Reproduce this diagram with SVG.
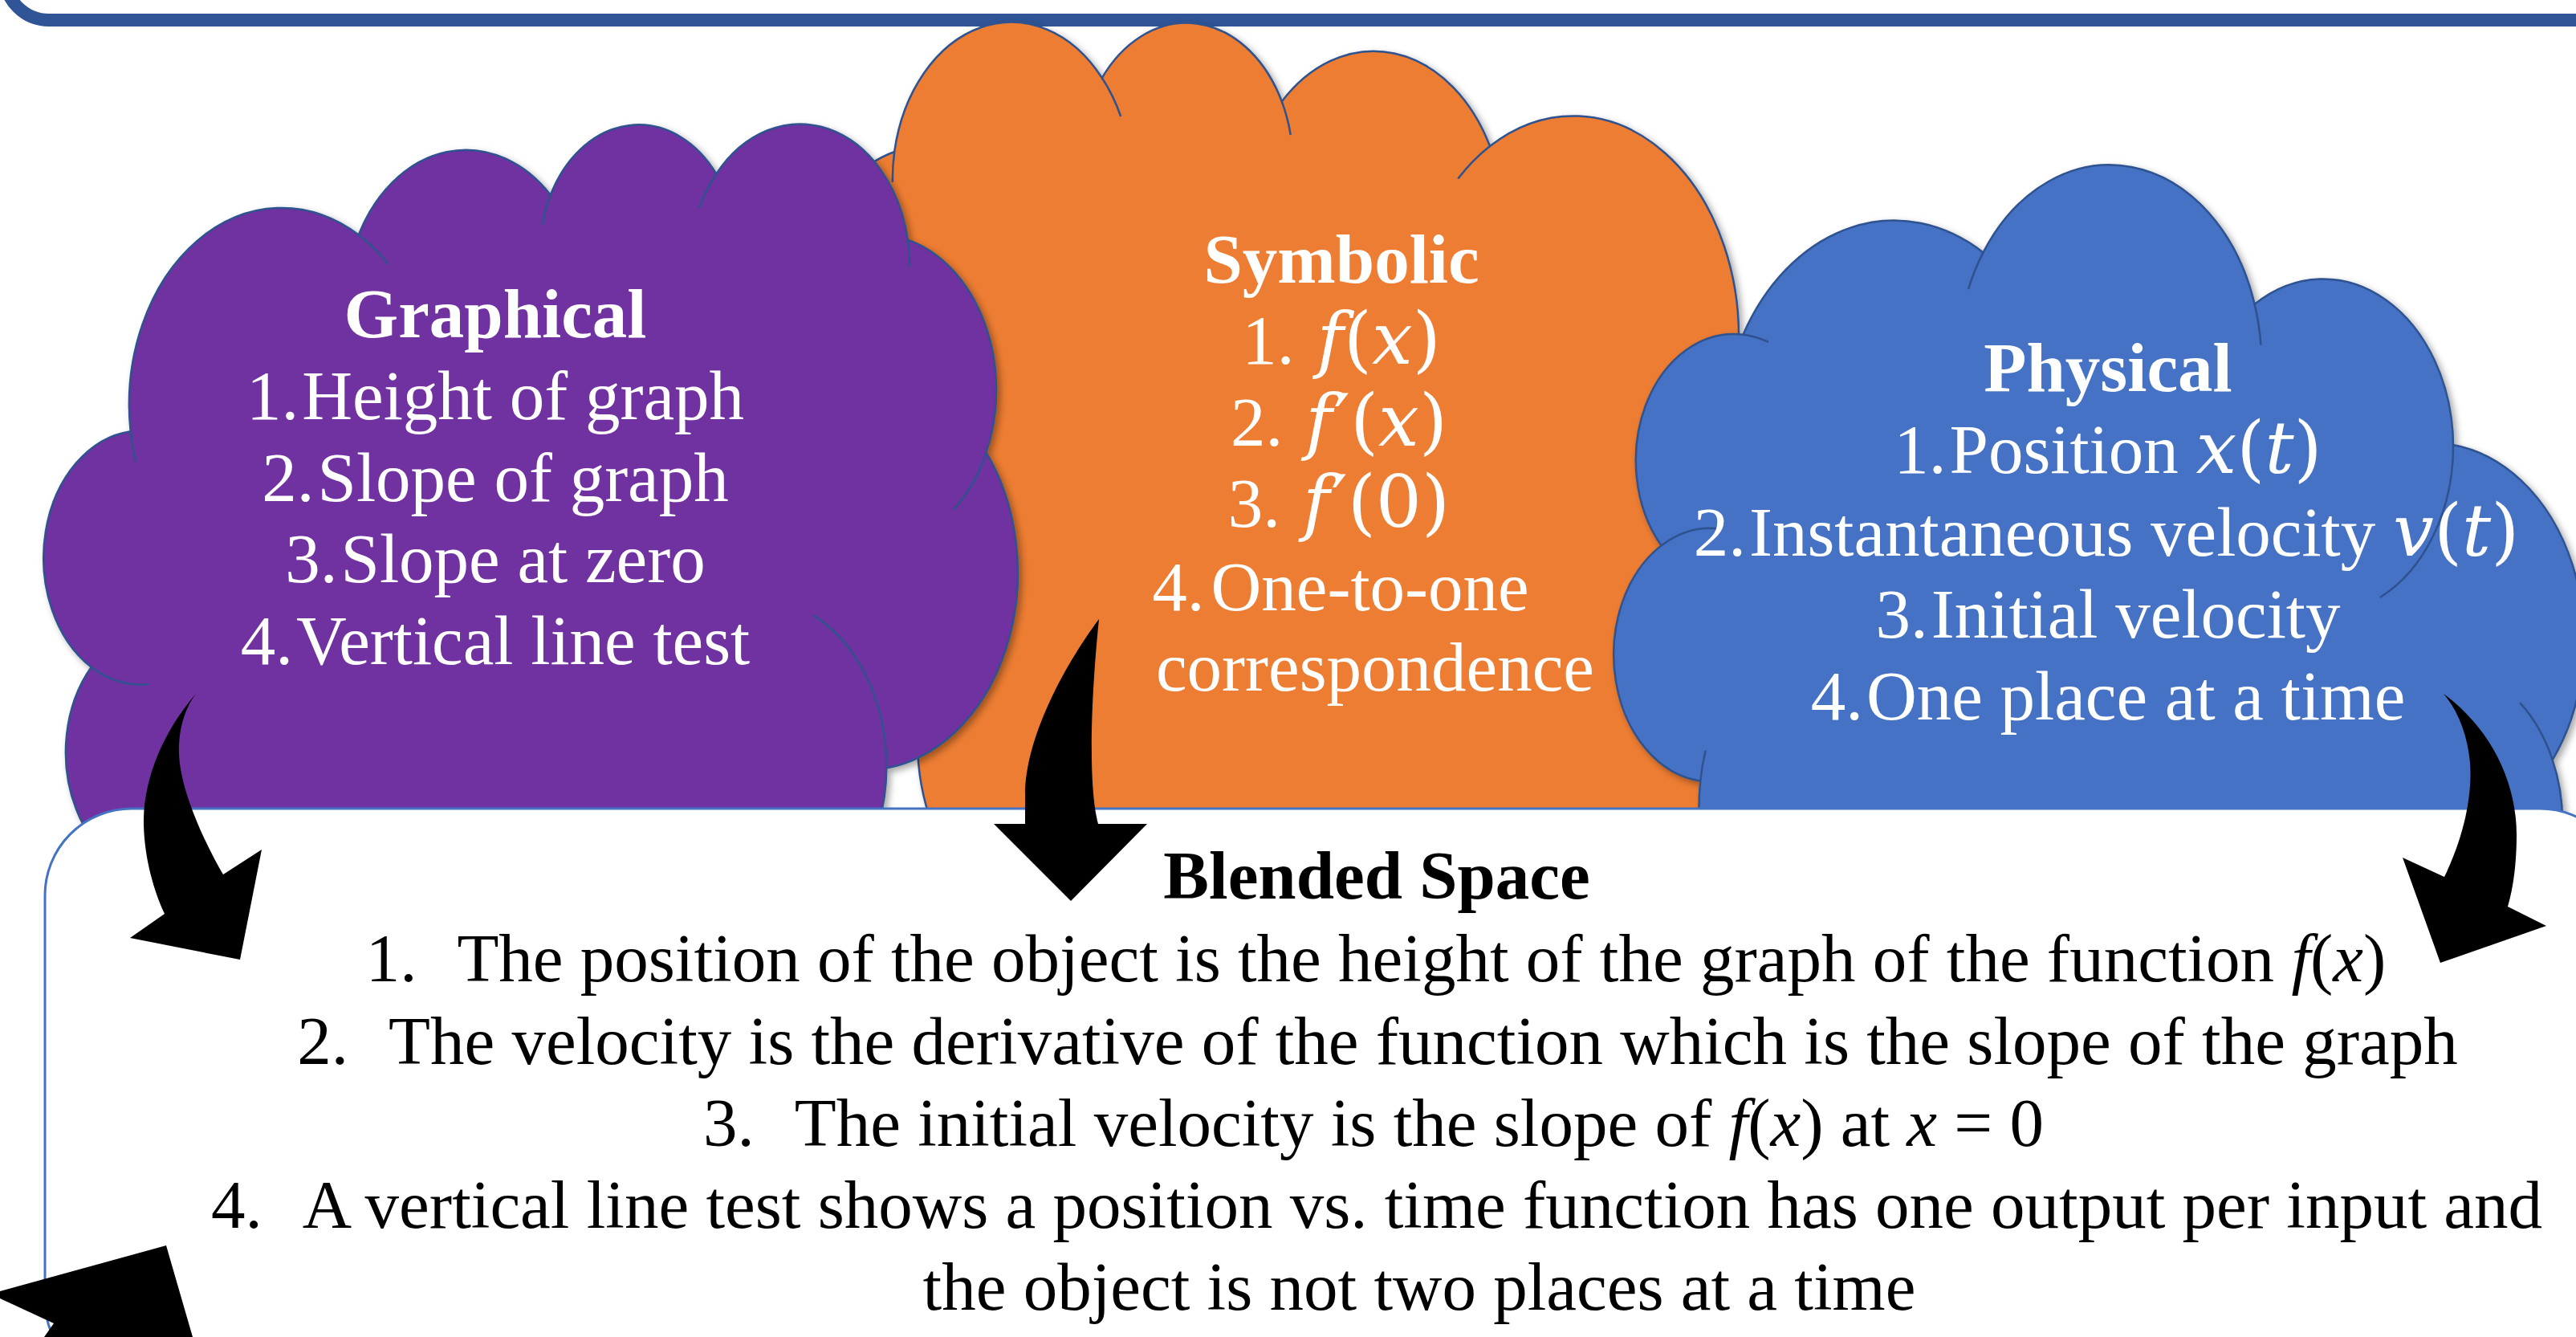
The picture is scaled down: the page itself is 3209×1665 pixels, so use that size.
<svg xmlns="http://www.w3.org/2000/svg" xmlns:xlink="http://www.w3.org/1999/xlink" width="3209" height="1665" viewBox="0 0 3209 1665">
  <defs>
    <style>
      .label { font-family: "Liberation Serif", "Times New Roman", serif; font-size: 87px; fill: #ffffff; text-anchor: middle; }
      .title { font-weight: bold; }
      .math { font-family: "DejaVu Serif", serif; font-size: 90px; }
      .mi { font-style: italic; }
      .blend { font-family: "Liberation Serif", "Times New Roman", serif; font-size: 85px; fill: #000000; text-anchor: middle; }
      .arrow { fill: #000000; }
    </style>
    <!-- preset cloud outline in a 43200 x 43200 unit square -->
    <path id="cloud-shape" vector-effect="non-scaling-stroke" stroke="#2F528F" stroke-width="2.5"
      d="M3900,14370 A6753,9190 0 0 1 14000,5192 A5333,7267 0 0 1 22500,3330 A4365,5945 0 0 1 29845,2345 A4857,6595 0 0 1 38324,5426 A5333,7273 0 0 1 41798,15354 A6775,9220 0 0 1 37382,30093 A5785,7867 0 0 1 28550,36670 A6752,9215 0 0 1 16478,39090 A7720,10543 0 0 1 5800,35250 A4360,5918 0 0 1 2160,25380 A4345,5945 0 0 1 3900,14370 Z"/>
    <!-- inner crease arcs of the cloud -->
    <path id="cloud-creases" vector-effect="non-scaling-stroke" fill="none" stroke="#2F528F" stroke-width="2.5"
      d="M4693,26177 A4345,5945 0 0 1 2160,25380 M6928,34899 A4360,5918 0 0 1 5800,35250 M16478,39090 A6752,9215 0 0 1 15817,37371 M28827,34751 A6752,9215 0 0 1 28550,36670 M34129,22954 A5785,7867 0 0 1 37382,30093 M41798,15354 A5333,7273 0 0 1 40350,18029 M38324,5426 A4857,6595 0 0 1 38400,6690 M29078,3952 A4857,6595 0 0 1 29845,2345 M22141,4720 A4365,5945 0 0 1 22500,3330 M14000,5192 A6753,9190 0 0 1 15304,6550 M4127,15789 A6753,9190 0 0 1 3900,14370"/>
    <filter id="shadow" x="-5%" y="-5%" width="115%" height="115%">
      <feDropShadow dx="4" dy="4" stdDeviation="4" flood-color="#000000" flood-opacity="0.35"/>
    </filter>
  </defs>

  <rect width="3209" height="1665" fill="#ffffff"/>

  <!-- frame edge along the top -->
  <g id="frame">
    <rect x="6" y="-300" width="3300" height="325" rx="55" fill="#ffffff" stroke="#2F5597" stroke-width="16"/>
  </g>

  <!-- Symbolic (mirrored cloud) -->
  <g id="symbolic">
    <g filter="url(#shadow)">
      <use xlink:href="#cloud-shape" fill="#ED7D31" transform="translate(2283,27) scale(-0.030498,0.029861)"/>
    </g>
    <use xlink:href="#cloud-creases" transform="translate(2283,27) scale(-0.030498,0.029861)"/>
  </g>

  <!-- Graphical -->
  <g id="graphical">
    <g filter="url(#shadow)">
      <use xlink:href="#cloud-shape" fill="#7030A0" transform="translate(53,154) scale(0.028125,0.0266667)"/>
    </g>
    <use xlink:href="#cloud-creases" transform="translate(53,154) scale(0.028125,0.0266667)"/>
  </g>

  <!-- Physical (upside-down cloud) -->
  <g id="physical">
    <g filter="url(#shadow)">
      <use xlink:href="#cloud-shape" fill="#4472C4" transform="translate(2009,1355) scale(0.028009,-0.026620)"/>
    </g>
    <use xlink:href="#cloud-creases" transform="translate(2009,1355) scale(0.028009,-0.026620)"/>
  </g>

  <!-- Blended space box -->
  <g id="blended">
    <rect x="56" y="1007" width="3216" height="720" rx="108" fill="#ffffff" stroke="#4472C4" stroke-width="3"/>
    <text class="blend title" x="1715" y="1119">Blended Space</text>
    <text class="blend" x="1714" y="1222"><tspan>1.</tspan><tspan dx="50">The position of the object is the height of the graph of the function </tspan><tspan class="mi">f</tspan>(<tspan class="mi">x</tspan>)</text>
    <text class="blend" x="1716" y="1325"><tspan>2.</tspan><tspan dx="50">The velocity is the derivative of the function which is the slope of the graph</tspan></text>
    <text class="blend" x="1711" y="1427"><tspan>3.</tspan><tspan dx="50">The initial velocity is the slope of </tspan><tspan class="mi">f</tspan>(<tspan class="mi">x</tspan>) at <tspan class="mi">x</tspan> = 0</text>
    <text class="blend" x="1715" y="1529"><tspan>4.</tspan><tspan dx="50">A vertical line test shows a position vs. time function has one output per input and</tspan></text>
    <text class="blend" x="1768" y="1631">the object is not two places at a time</text>
  </g>

  <!-- cloud labels -->
  <g id="graphical-label">
    <text class="label title" x="617" y="420">Graphical</text>
    <text class="label" x="617" y="522">1.<tspan dx="4">Height of graph</tspan></text>
    <text class="label" x="617" y="624">2.<tspan dx="4">Slope of graph</tspan></text>
    <text class="label" x="617" y="725">3.<tspan dx="4">Slope at zero</tspan></text>
    <text class="label" x="617" y="827">4.<tspan dx="4">Vertical line test</tspan></text>
  </g>
  <g id="symbolic-label">
    <text class="label title" x="1671" y="352">Symbolic</text>
    <text class="label" x="1671" y="453">1.<tspan class="math mi" dx="28">f</tspan><tspan class="math">(</tspan><tspan class="math mi">x</tspan><tspan class="math">)</tspan></text>
    <text class="label" x="1668" y="555">2.<tspan class="math mi" dx="28">f</tspan><tspan class="math" dx="2">′</tspan><tspan class="math">(</tspan><tspan class="math mi">x</tspan><tspan class="math">)</tspan></text>
    <text class="label" x="1668" y="656">3.<tspan class="math mi" dx="28">f</tspan><tspan class="math" dx="2">′</tspan><tspan class="math">(0)</tspan></text>
    <text class="label" x="1670" y="760">4.<tspan dx="8">One-to-one</tspan></text>
    <text class="label" x="1440" y="860" style="text-anchor:start">correspondence</text>
  </g>
  <g id="physical-label">
    <text class="label title" x="2626" y="487">Physical</text>
    <text class="label" x="2626" y="589">1.<tspan dx="4">Position </tspan><tspan class="math mi">x</tspan><tspan class="math">(</tspan><tspan class="math mi">t</tspan><tspan class="math">)</tspan></text>
    <text class="label" x="2624" y="692">2.<tspan dx="4">Instantaneous velocity </tspan><tspan class="math mi">v</tspan><tspan class="math">(</tspan><tspan class="math mi">t</tspan><tspan class="math">)</tspan></text>
    <text class="label" x="2626" y="794">3.<tspan dx="4">Initial velocity</tspan></text>
    <text class="label" x="2626" y="896">4.<tspan dx="4">One place at a time</tspan></text>
  </g>

  <!-- curved arrows from each space into the blend -->
  <g id="connectors">
    <path class="arrow" d="M244,864 C200,915 178,975 179,1027 C180,1070 192,1110 205,1138 L162,1168 L299,1195 L326,1058 L278,1089 C255,1050 225,985 223,940 C222,905 232,880 244,864 Z"/>
    <path class="arrow" d="M1369,771 C1325,830 1277,920 1277,990 L1277,1026 L1238,1026 L1334,1122 L1429,1026 L1368,1026 C1358,990 1356,900 1369,771 Z"/>
    <path class="arrow" d="M3044,864 C3100,905 3135,970 3135,1040 C3135,1075 3131,1105 3124,1129 L3172,1153 L3040,1199 L2993,1068 L3045,1092 C3070,1040 3080,990 3077,950 C3074,915 3062,885 3044,864 Z"/>
    <path class="arrow" d="M0,1608 L207,1551 L240,1665 L55,1665 L67,1648 L0,1617 Z"/>
  </g>
</svg>
